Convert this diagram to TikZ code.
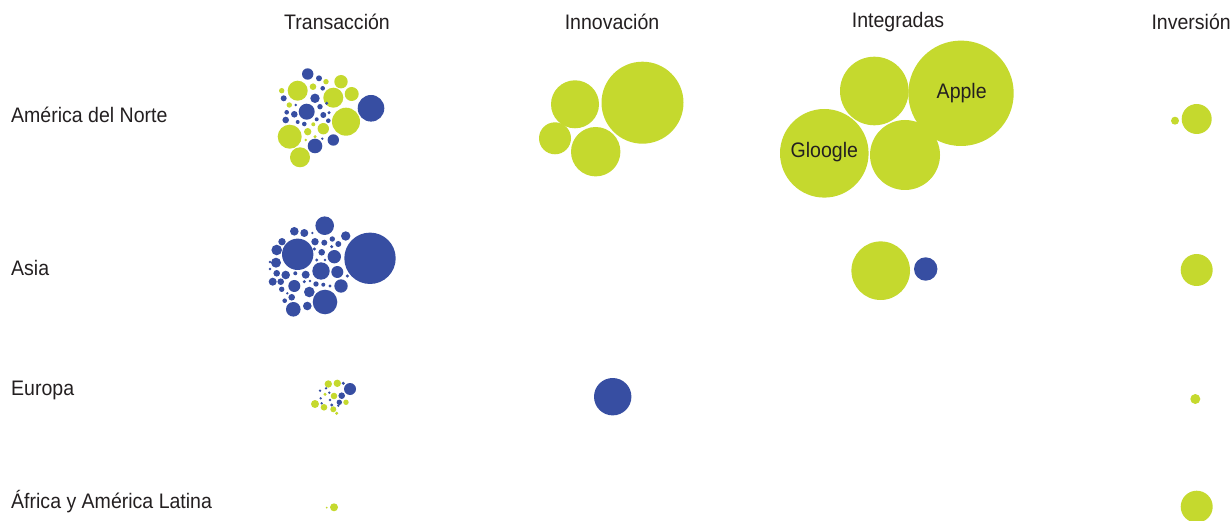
\documentclass[tikz,border=0pt]{standalone}
\usepackage{fontspec}
\setmainfont[FakeStretch=0.93]{Liberation Sans}
\definecolor{lime}{RGB}{197,217,46}
\definecolor{navy}{RGB}{55,78,162}
\definecolor{txt}{RGB}{35,31,32}
\begin{document}
\begin{tikzpicture}[x=1pt,y=-1pt,
  lbl/.style={font=\fontsize{21}{25}\selectfont, text=txt, inner sep=0pt},
  hdr/.style={lbl, anchor=center},
  row/.style={lbl, anchor=west}]
\useasboundingbox (0,0) rectangle (1231,521);
\clip (0,0) rectangle (1231,521);
% headers
\node[hdr] (hT) at (337,22) {Transacción};
\node[hdr] (hIn) at (612,22) {Innovación};
\node[hdr] (hIg) at (898,22) {Integradas};
\node[hdr, anchor=east] (hIv) at (1231,22) {Inversión};
% rows
\node[row] (rNA) at (11,115) {América del Norte};
\node[row] (rAs) at (11,268) {Asia};
\node[row] (rEu) at (11,390) {Europa};
\node[row] (rAf) at (11,502) {África y América Latina};
% Transaccion - North America
\foreach \x/\y/\r in {326/81.7/2.7,341/81.7/6.7,281.7/90.7/2.7,297.7/90.7/10,313/86.7/3.3,333.3/97.7/10,351.7/94/7,289.3/105/2.7,346/121.7/14,313.3/124.3/2,323.3/128.7/5.7,307.7/131.7/3.7,315/136.7/1.7,289.7/136.7/12,305.7/140/1.3,300/157.3/10}
  \fill[lime] (\x,\y) circle[radius=\r];
\foreach \x/\y/\r in {307.7/74/5.7,319/78.3/3,322.7/88.3/2.3,371/108.3/13.3,283.7/98.3/3,315/98.3/4.7,295.7/105/1.3,306.7/111.7/8,320/106.7/2.7,326.7/103.3/1.7,286.7/112.3/2.3,294.3/114.3/3.3,323.3/115/3,329/112.7/1.7,285.7/120/3.3,297.7/122/2,304.3/124/2.3,316.7/119.3/2,328.3/120.7/2.3,333.3/140/5.7,315/146/7.3,322.3/138.7/1.3}
  \fill[navy] (\x,\y) circle[radius=\r];
% Transaccion - Asia
\foreach \x/\y/\r in {324.7/225.7/9.3,294.3/231.3/4.3,304.3/233/4,312.3/233/1.3,282/241.7/3.7,297.7/254.3/15.7,315/241.7/3.7,324.3/242.7/3,332.3/239/2.7,345.7/236/4.7,338.3/244/3,331.7/246.7/1.7,370/258.3/25.7,276.7/250/5.3,321.7/252.3/3.3,314.3/249/1.7,334.3/256.7/6.7,276/262.7/5,316.7/260/1.7,325/260/1.3,270/269/1.3,276.7/273.3/3.3,285.7/275/4.3,295.3/273.3/2,305.7/274.7/4,321/271/8.7,337.3/272/6,272.7/281.7/4,280.7/281.7/3.3,294.3/286/6,304.3/281.7/1.7,310/281/1.3,316/284/2.7,323.3/284.7/2,330/286/1.7,341/286/6.7,347.3/276/1.7,281.7/289.3/2.7,309.3/292/5.3,325/302/12.3,291.7/297.3/3.3,284.7/300.7/2.3,307.3/306/4.3,293.3/309.3/7.3,287.3/293.3/1.3,270/262/1.3}
  \fill[navy] (\x,\y) circle[radius=\r];
% Transaccion - Europa
\foreach \x/\y/\r in {328.3/384/3.7,337.3/383.3/3.7,334/396/3.3,325/394.3/1.7,346/402.3/2.7,315/404/4,324/407.3/3.3,333.3/409.3/3,336.7/413.3/1.7}
  \fill[lime] (\x,\y) circle[radius=\r];
\foreach \x/\y/\r in {350/389/6,343.3/383.3/1.7,326/388.3/1.3,320/390.7/1.3,341.7/395.7/3.3,329.3/392.7/1.3,320.7/398.3/1.3,330/400/1.3,339.3/402.3/2.7,321.7/403.3/1.3,331.7/405/1.7,338.3/405.7/1.3}
  \fill[navy] (\x,\y) circle[radius=\r];
% Transaccion - Africa
\fill[lime] (334,507.3) circle[radius=4];
\fill[lime] (326.7,507.7) circle[radius=1];
% Innovacion
\foreach \x/\y/\r in {642.5/102.7/41,575/104.3/24,555/138.3/16,595.7/151.7/24.7}
  \fill[lime] (\x,\y) circle[radius=\r];
\fill[navy] (612.7,396.7) circle[radius=18.7];
% Integradas
\fill[lime] (961,93.3) circle[radius=52.7];
\fill[lime] (874.3,91) circle[radius=34.3];
\fill[lime] (824.3,153.3) circle[radius=44.3];
\fill[lime] (905,155) circle[radius=35];
\node[hdr] (apple) at (961.7,93) {Apple};
\node[hdr] (gloogle) at (824.3,151.7) {Gloogle};
\fill[lime] (880.7,270.7) circle[radius=29.3];
\fill[navy] (925.7,269) circle[radius=11.7];
% Inversion
\fill[lime] (1175,120.7) circle[radius=4];
\fill[lime] (1196.7,119) circle[radius=15];
\fill[lime] (1196.7,270) circle[radius=16];
\fill[lime] (1195.3,399) circle[radius=5];
\fill[lime] (1196.7,506.7) circle[radius=16];
\end{tikzpicture}
\end{document}
